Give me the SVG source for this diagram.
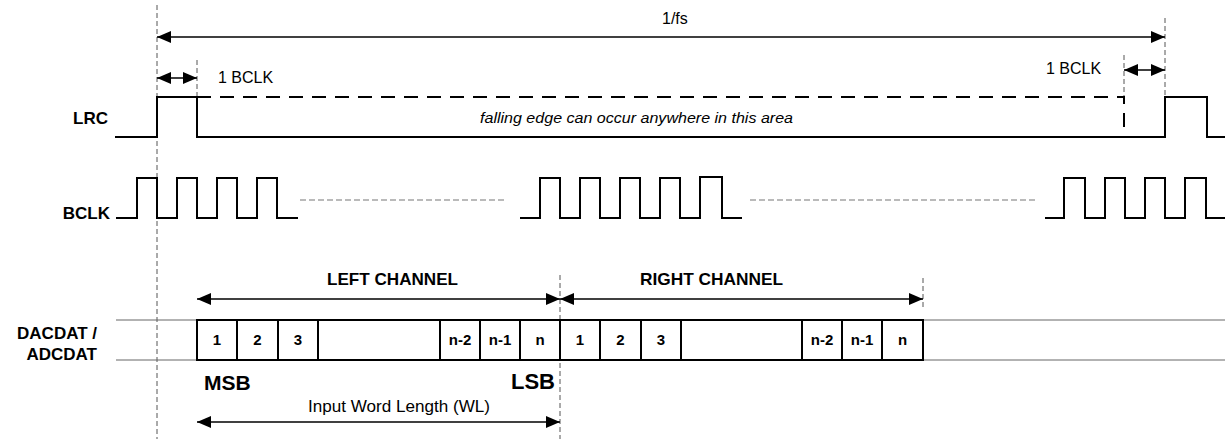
<svg xmlns="http://www.w3.org/2000/svg" width="1225" height="439" viewBox="0 0 1225 439">
<defs>
<style>
text{font-family:"Liberation Sans",Arial,sans-serif;fill:#000}
.lbl{font-weight:bold;font-size:17px}
.cell{font-weight:bold;font-size:15px;text-anchor:middle}
.sig{fill:none;stroke:#000;stroke-width:2}
.guide{fill:none;stroke:#555;stroke-width:1;stroke-dasharray:5 3}
.gap{fill:none;stroke:#777;stroke-width:1.2;stroke-dasharray:6 3}
.thin{fill:none;stroke:#666;stroke-width:1}
.arr{fill:none;stroke:#000;stroke-width:1.5;marker-start:url(#ah);marker-end:url(#ah)}
</style>
<marker id="ah" viewBox="0 0 14 12" refX="14" refY="6" markerWidth="14" markerHeight="12" markerUnits="userSpaceOnUse" orient="auto-start-reverse">
<path d="M0,0 L14,6 L0,12 z" fill="#000"/>
</marker>
</defs>
<g id="guides">
<path class="guide" d="M157,5 V439"/>
<path class="guide" d="M197,60 V97"/>
<path class="guide" d="M1165,18 V100"/>
<path class="guide" d="M1124,55 V97"/>
<path class="guide" d="M560,275 V439"/>
<path class="guide" d="M923,278 V308"/>
</g>
<g id="connectors">
<line class="arr" x1="157" y1="37" x2="1165" y2="37"/>
<line class="arr" x1="157" y1="78" x2="197" y2="78"/>
<line class="arr" x1="1124" y1="70" x2="1165" y2="70"/>
<line class="arr" x1="197" y1="299" x2="560" y2="299"/>
<line class="arr" x1="560" y1="299" x2="923" y2="299"/>
<line class="arr" x1="197" y1="422" x2="560" y2="422"/>
</g>
<g id="timing-labels">
<text x="662" y="24" font-size="16">1/fs</text>
<text x="218" y="83" font-size="16">1 BCLK</text>
<text x="1046" y="74" font-size="16">1 BCLK</text>
<text x="480" y="123" font-size="15.5" font-style="italic" textLength="313" lengthAdjust="spacingAndGlyphs">falling edge can occur anywhere in this area</text>
</g>
<g id="lrc">
<text class="lbl" x="108" y="124" text-anchor="end">LRC</text>
<path class="sig" d="M115,137 H157 V97 H197 V137 H1165 V97 H1207 V137 H1225"/>
<path class="sig" stroke-dasharray="14 9" d="M197,97 H1124 V137"/>
</g>
<g id="bclk">
<text class="lbl" x="110" y="219" text-anchor="end">BCLK</text>
<path class="sig" d="M116,218 H137 V178 H157 V218 H177 V178 H197 V218 H217 V178 H237 V218 H257 V178 H277 V218 H298"/>
<path class="sig" d="M520,218 H540 V178 H560 V218 H580 V178 H600 V218 H620 V178 H640 V218 H660 V178 H680 V218 H700 V177 H722 V218 H742"/>
<path class="sig" d="M1045,218 H1064 V178 H1085 V218 H1105 V178 H1125 V218 H1145 V178 H1165 V218 H1185 V178 H1206 V218 H1225"/>
<path class="gap" d="M300,200 H505 M750,200 H1035"/>
</g>
<g id="channel-labels">
<text class="lbl" x="327" y="285" textLength="131" lengthAdjust="spacingAndGlyphs">LEFT CHANNEL</text>
<text class="lbl" x="640" y="285" textLength="143" lengthAdjust="spacingAndGlyphs">RIGHT CHANNEL</text>
</g>
<g id="dacdat">
<text class="lbl" x="97" y="339" text-anchor="end" font-size="18">DACDAT /</text>
<text class="lbl" x="97" y="360" text-anchor="end" font-size="18">ADCDAT</text>
<path class="thin" d="M116,320 H197 M116,360 H197 M923,320 H1225 M923,360 H1225"/>
<rect x="197" y="320" width="726" height="40" fill="none" stroke="#000" stroke-width="2"/>
<path class="sig" d="M237,320 V360 M278,320 V360 M318,320 V360 M440,320 V360 M480,320 V360 M520,320 V360 M560,320 V360 M600,320 V360 M641,320 V360 M681,320 V360 M802,320 V360 M842,320 V360 M882,320 V360"/>
<text class="cell" x="217" y="345">1</text>
<text class="cell" x="257.5" y="345">2</text>
<text class="cell" x="298" y="345">3</text>
<text class="cell" x="460" y="345">n-2</text>
<text class="cell" x="500" y="345">n-1</text>
<text class="cell" x="540" y="345">n</text>
<text class="cell" x="580" y="345">1</text>
<text class="cell" x="620.5" y="345">2</text>
<text class="cell" x="661" y="345">3</text>
<text class="cell" x="822" y="345">n-2</text>
<text class="cell" x="862" y="345">n-1</text>
<text class="cell" x="902.5" y="345">n</text>
</g>
<g id="word-length">
<text x="204" y="390" font-weight="bold" font-size="21">MSB</text>
<text x="555" y="389" font-weight="bold" font-size="22" text-anchor="end">LSB</text>
<text x="308" y="412" font-size="17" textLength="182" lengthAdjust="spacingAndGlyphs">Input Word Length (WL)</text>
</g>
</svg>
